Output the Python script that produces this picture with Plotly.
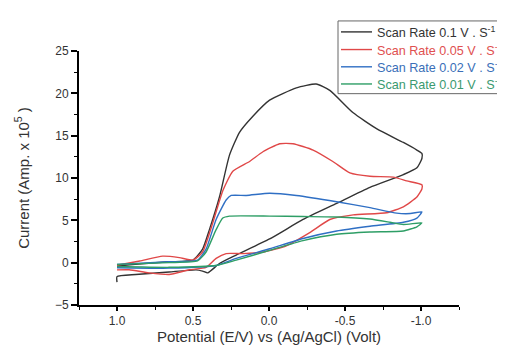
import plotly.graph_objects as go

# Scan rate 0.1 V/s (black)
x_01 = [1.0, 0.88, 0.657, 0.50, 0.437, 0.392, 0.326, 0.26, 0.194, 0.106, -0.004, -0.18, -0.31, -0.40, -0.554, -0.71, -0.884, -0.973, -1.006,
        -1.006, -0.973, -0.884, -0.664, -0.445, -0.224, -0.004, 0.216, 0.326, 0.403, 0.437, 0.48, 0.657, 0.877, 1.0, 1.0]
y_01 = [-0.4, -0.2, 0.1, 0.3, 1.6, 3.9, 7.75, 12.7, 15.4, 17.3, 19.2, 20.65, 21.1, 20.35, 17.7, 15.8, 14.2, 13.3, 12.9,
        12.3, 11.2, 10.4, 8.9, 7.0, 5.1, 2.8, 0.9, -0.1, -1.2, -1.0, -0.85, -1.1, -1.4, -1.65, -2.3]

# Scan rate 0.05 V/s (red)
x_005 = [1.0, 0.85, 0.70, 0.59, 0.50, 0.437, 0.37, 0.304, 0.238, 0.128, 0.04, -0.07, -0.158, -0.29, -0.42, -0.532, -0.664, -0.818, -0.906, -1.006,
         -1.006, -0.973, -0.884, -0.774, -0.554, -0.40, -0.268, -0.114, 0.04, 0.172, 0.282, 0.348, 0.414, 0.524, 0.657, 0.79, 0.92, 1.0]
y_005 = [-0.3, 0.2, 0.77, 0.6, 0.3, 1.26, 4.7, 8.5, 10.8, 11.95, 13.1, 14.05, 14.05, 13.3, 11.95, 10.6, 10.2, 10.1, 9.66, 9.2,
         8.7, 7.75, 6.6, 5.9, 5.65, 5.1, 3.55, 2.0, 1.26, 1.07, 1.07, 0.5, -0.57, -0.84, -1.4, -1.2, -0.84, -0.85]

# Scan rate 0.02 V/s (blue)
x_002 = [1.0, 0.657, 0.47, 0.414, 0.348, 0.282, 0.249, 0.15, -0.004, -0.18, -0.445, -0.664, -0.84, -0.93, -1.006,
         -0.973, -0.884, -0.664, -0.445, -0.224, -0.004, 0.216, 0.348, 0.657, 1.0]
y_002 = [-0.2, 0.1, 0.3, 1.6, 5.1, 7.4, 7.94, 7.94, 8.2, 7.94, 7.2, 6.5, 5.85, 5.8, 6.0,
         5.27, 4.77, 4.3, 3.74, 2.86, 1.64, 0.5, -0.34, -0.65, -0.6]

# Scan rate 0.01 V/s (green)
x_001 = [1.0, 0.657, 0.47, 0.414, 0.348, 0.304, 0.26, -0.004, -0.224, -0.445, -0.664, -0.796, -0.884, -1.006,
         -0.973, -0.884, -0.664, -0.445, -0.224, -0.004, 0.216, 0.348, 0.657, 1.0]
y_001 = [-0.2, 0.0, 0.2, 1.26, 3.9, 5.27, 5.5, 5.5, 5.45, 5.4, 5.15, 4.77, 4.5, 4.7,
         4.24, 3.74, 3.63, 3.36, 2.6, 1.45, 0.3, -0.34, -0.55, -0.45]

series_names = ["Scan Rate 0.1 V . S<sup>-1</sup>", "Scan Rate 0.05 V . S<sup>-1</sup>",
                "Scan Rate 0.02 V . S<sup>-1</sup>", "Scan Rate 0.01 V . S<sup>-1</sup>"]
line_colors = ["#333333", "#e04848", "#2f6fc4", "#2e9e66"]
text_colors = ["#333333", "#e05050", "#3a6fb8", "#3a9a70"]
xs = [x_01, x_005, x_002, x_001]
ys = [y_01, y_005, y_002, y_001]

FONT = "Liberation Sans, Arial, sans-serif"

fig = go.Figure()
for name, c, xv, yv in zip(series_names, line_colors, xs, ys):
    fig.add_trace(go.Scatter(x=xv, y=yv, mode="lines", name=name, showlegend=False,
                             line=dict(color=c, width=1.4, shape="spline", smoothing=0.5)))

# Plot-area geometry in pixels (for the hand-built legend placed in paper coords)
L, R, T, B = 71, 451, 43, 305
W, H = R - L, B - T


def px(x):
    return (x - L) / W


def py(y):
    return (B - y) / H


shapes = [dict(type="rect", xref="paper", yref="paper",
               x0=px(330), x1=px(530), y0=py(87), y1=py(12),
               line=dict(color="#666666", width=1), fillcolor="rgba(255,255,255,0)", layer="above")]
annotations = []
row_y = [23.3, 41.5, 59.3, 77.0]
for name, lc, tc, ry in zip(series_names, line_colors, text_colors, row_y):
    shapes.append(dict(type="line", xref="paper", yref="paper",
                       x0=px(333), x1=px(364), y0=py(ry), y1=py(ry),
                       line=dict(color=lc, width=1.4)))
    annotations.append(dict(xref="paper", yref="paper", x=px(367), y=py(ry),
                            xanchor="left", yanchor="middle", showarrow=False,
                            text=name, font=dict(family=FONT, size=12.6, color=tc)))

fig.update_layout(
    width=505, height=347,
    margin=dict(l=L, r=505 - R, t=T, b=347 - B),
    paper_bgcolor="white", plot_bgcolor="white",
    font=dict(family=FONT, size=12, color="#333333"),
    showlegend=False,
    shapes=shapes,
    annotations=annotations,
    xaxis=dict(range=[1.25, -1.25], tickvals=[1.0, 0.5, 0.0, -0.5, -1.0],
               ticktext=["1.0", "0.5", "0.0", "-0.5", "-1.0"],
               tickfont=dict(size=12, color="#333333"),
               showgrid=False, zeroline=False, showline=True, linecolor="black", linewidth=2,
               ticks="outside", ticklen=4, tickwidth=1.5, tickcolor="black",
               minor=dict(dtick=0.25, tick0=0, ticks="outside", ticklen=3, tickcolor="black", tickwidth=1),
               title=dict(text="Potential (E/V) vs (Ag/AgCl) (Volt)", standoff=4,
                          font=dict(size=15, color="#333333"))),
    yaxis=dict(range=[-5, 25], tickvals=[-5, 0, 5, 10, 15, 20, 25],
               tickfont=dict(size=12, color="#333333"),
               showgrid=False, zeroline=False, showline=True, linecolor="black", linewidth=2,
               ticks="outside", ticklen=6, tickwidth=1.5, tickcolor="black",
               minor=dict(dtick=2.5, tick0=0, ticks="outside", ticklen=3, tickcolor="black", tickwidth=1),
               title=dict(text="Current (Amp. x 10<sup>5</sup> )", standoff=22,
                          font=dict(size=15, color="#333333"))),
)

fig.write_html("out.html")
